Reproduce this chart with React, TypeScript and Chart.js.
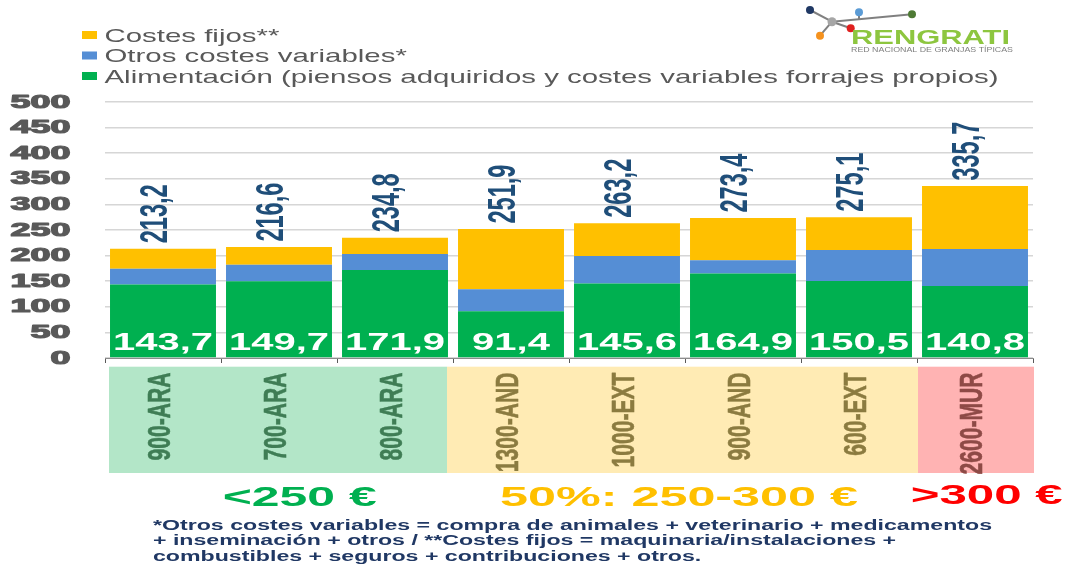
import React, { useEffect, useRef } from "react";
import { Chart, registerables } from "chart.js";

Chart.register(...registerables);

// ---------- data ----------
const categories = ["900-ARA", "700-ARA", "800-ARA", "1300-AND", "1000-EXT", "900-AND", "600-EXT", "2600-MUR"];
const categoryGroup = [0, 0, 0, 1, 1, 1, 1, 2];
const alimentacion = [143.7, 149.7, 171.9, 91.4, 145.6, 164.9, 150.5, 140.8];
const otrosVariables = [30.6, 32.6, 31.2, 43.0, 53.4, 26.0, 60.5, 72.3];
const costesFijos = [38.9, 34.3, 31.7, 117.5, 64.2, 82.5, 64.1, 122.6];
const totales = [213.2, 216.6, 234.8, 251.9, 263.2, 273.4, 275.1, 335.7];
const yTicks = [0, 50, 100, 150, 200, 250, 300, 350, 400, 450, 500];
const seriesNames = [
  "Costes fijos**",
  "Otros costes variables*",
  "Alimentación (piensos adquiridos y costes variables forrajes propios)",
];
const groupLabels = ["<250 €", "50%: 250-300 €", ">300 €"];
const footnoteLines = [
  "*Otros costes variables = compra de animales + veterinario + medicamentos",
  "+ inseminación + otros / **Costes fijos = maquinaria/instalaciones +",
  "combustibles + seguros + contribuciones + otros.",
];
const logoTitle = "RENGRATI";
const logoSubtitle = "RED NACIONAL DE GRANJAS TÍPICAS";

// ---------- styles ----------
const FF = '"Liberation Sans", Arial, sans-serif';
const C_YELLOW = "#FFC000";
const C_BLUE = "#558ED5";
const C_GREEN = "#00B050";

const fmt = (v: number) => v.toFixed(1).replace(".", ",");

function txt(
  ctx: CanvasRenderingContext2D,
  s: string,
  x: number,
  y: number,
  font: string,
  color: string,
  align: CanvasTextAlign,
  sx = 1,
  rot = 0,
  stroke = 0
) {
  ctx.save();
  ctx.translate(x, y);
  if (rot) ctx.rotate(rot);
  ctx.scale(sx, 1);
  ctx.font = font;
  ctx.fillStyle = color;
  ctx.textAlign = align;
  ctx.textBaseline = "alphabetic";
  ctx.fillText(s, 0, 0);
  if (stroke > 0) {
    ctx.strokeStyle = color;
    ctx.lineWidth = stroke;
    ctx.lineJoin = "round";
    ctx.strokeText(s, 0, 0);
  }
  ctx.restore();
}

function fit(ctx: CanvasRenderingContext2D, font: string, s: string, w: number) {
  ctx.save();
  ctx.font = font;
  const m = ctx.measureText(s).width;
  ctx.restore();
  return w / m;
}

const overlayPlugin = {
  id: "overlay",
  afterDraw(chart: any) {
    const ctx: CanvasRenderingContext2D = chart.ctx;
    const xs = chart.scales.x;
    const ys = chart.scales.y;

    // legend
    const legFont = `19px ${FF}`;
    const legSx = fit(ctx, legFont, seriesNames[2], 894);
    const legColors = [C_YELLOW, C_BLUE, C_GREEN];
    const legBase = [41.7, 62.2, 82.7];
    seriesNames.forEach((n, i) => {
      ctx.fillStyle = legColors[i];
      ctx.fillRect(82, legBase[i] - 10.7, 15, 8);
      txt(ctx, n, 104.5, legBase[i], legFont, "#595959", "left", legSx);
    });

    // y tick labels
    const yFont = `bold 19px ${FF}`;
    const ySx = fit(ctx, yFont, "500", 60);
    yTicks.forEach((v) => {
      txt(ctx, String(v), 70.5, ys.getPixelForValue(v) + 5.5, yFont, "#595959", "right", ySx, 0, 1.2);
    });

    // inner labels (green values)
    const inFont = `bold 23px ${FF}`;
    const inSx = fit(ctx, inFont, "143,7", 100);
    const meta0 = chart.getDatasetMeta(0);
    alimentacion.forEach((v, i) => {
      const bx = meta0.data[i].x;
      txt(ctx, fmt(v), bx, 349.5, inFont, "#FFFFFF", "center", inSx);
    });

    // totals (rotated)
    const totFont = `bold 38px ${FF}`;
    const totSx = fit(ctx, totFont, "213,2", 59);
    totales.forEach((v, i) => {
      const bx = meta0.data[i].x;
      const top = ys.getPixelForValue(v);
      txt(ctx, fmt(v), bx + 3.7, top - 5.5, totFont, "#1F4E79", "left", totSx, -Math.PI / 2);
    });

    // category group boxes
    const boxes = [
      { x0: 109, x1: 447, color: "#B3E6C8" },
      { x0: 447, x1: 918, color: "#FFEBB4" },
      { x0: 918, x1: 1034, color: "#FFB3B3" },
    ];
    boxes.forEach((b) => {
      ctx.fillStyle = b.color;
      ctx.fillRect(b.x0, 366.7, b.x1 - b.x0, 473 - 366.7);
    });

    // category labels
    const catFont = `bold 31px ${FF}`;
    const catSx = fit(ctx, catFont, "900-ARA", 88);
    const catColors = ["#3F7D55", "#8B7B40", "#8E4A46"];
    categories.forEach((c, i) => {
      const cx = xs.getPixelForValue(i);
      txt(ctx, c, cx + 6.5, 372.5, catFont, catColors[categoryGroup[i]], "right", catSx, -Math.PI / 2, 0.6);
    });

    // group labels
    const gFont = `bold 27px ${FF}`;
    const gSpec = [
      { x: 222.7, w: 154, base: 506, color: "#00B050" },
      { x: 500, w: 358, base: 506, color: "#FFC000" },
      { x: 910.7, w: 152, base: 504, color: "#FF0000" },
    ];
    groupLabels.forEach((g, i) => {
      const s = gSpec[i];
      const sx = fit(ctx, gFont, g, s.w);
      txt(ctx, g, s.x, s.base, gFont, s.color, "left", sx);
    });

    // footnote
    const fnFont = `bold 14.5px ${FF}`;
    const fnSx = fit(ctx, fnFont, footnoteLines[0], 839);
    const fnBase = [529.5, 545, 560.5];
    footnoteLines.forEach((l, i) => {
      txt(ctx, l, 153, fnBase[i], fnFont, "#203864", "left", fnSx);
    });

    // logo
    ctx.save();
    ctx.strokeStyle = "#808080";
    ctx.lineWidth = 2;
    const seg = (a: number[], b: number[]) => {
      ctx.beginPath();
      ctx.moveTo(a[0], a[1]);
      ctx.lineTo(b[0], b[1]);
      ctx.stroke();
    };
    const hub = [832, 21.7];
    seg([810, 10], hub);
    seg(hub, [820, 35.7]);
    seg(hub, [850.7, 28.3]);
    seg(hub, [912, 14.3]);
    seg([859, 12.3], [859, 19.2]);
    const dots: [number, number, number, string][] = [
      [810, 10, 4, "#203864"],
      [859, 12.3, 4, "#5B9BD5"],
      [912, 14.3, 4, "#4E7A34"],
      [832, 21.7, 4.5, "#A6A6A6"],
      [850.7, 28.3, 4, "#E0201F"],
      [820, 35.7, 4, "#F5921E"],
    ];
    dots.forEach(([dx, dy, r, c]) => {
      ctx.beginPath();
      ctx.arc(dx, dy, r, 0, Math.PI * 2);
      ctx.fillStyle = c;
      ctx.fill();
    });
    ctx.restore();
    const lgFont = `bold 20px ${FF}`;
    txt(ctx, logoTitle, 851, 43.5, lgFont, "#8DC63F", "left", fit(ctx, lgFont, logoTitle, 159));
    const lsFont = `7px ${FF}`;
    txt(ctx, logoSubtitle, 851, 51.5, lsFont, "#7F7F7F", "left", fit(ctx, lsFont, logoSubtitle, 162));
  },
};

export default function App() {
  const ref = useRef<HTMLCanvasElement | null>(null);
  useEffect(() => {
    if (!ref.current) return;
    const chart = new Chart(ref.current, {
      type: "bar",
      data: {
        labels: categories,
        datasets: [
          { label: seriesNames[2], data: alimentacion, backgroundColor: C_GREEN },
          { label: seriesNames[1], data: otrosVariables, backgroundColor: C_BLUE },
          { label: seriesNames[0], data: costesFijos, backgroundColor: C_YELLOW },
        ],
      },
      options: {
        animation: false,
        responsive: false,
        devicePixelRatio: 1,
        layout: { padding: { left: 105, right: 35, top: 102, bottom: 203 } },
        datasets: { bar: { barPercentage: 0.9135, categoryPercentage: 1 } },
        plugins: { legend: { display: false }, tooltip: { enabled: false } },
        scales: {
          x: {
            stacked: true,
            ticks: { display: false },
            grid: {
              offset: true,
              drawOnChartArea: false,
              drawTicks: true,
              tickLength: 5,
              color: "#595959",
            },
            border: { display: true, color: "#8C8C8C", width: 1 },
            afterFit: (s: any) => {
              s.height = 5;
            },
          },
          y: {
            stacked: true,
            min: 0,
            max: 500,
            ticks: { display: false, stepSize: 50 },
            grid: { color: "#D6D6D6", lineWidth: 1.5, drawTicks: false },
            border: { display: false },
            afterFit: (s: any) => {
              s.width = 0;
            },
          },
        },
      },
      plugins: [overlayPlugin],
    } as any);
    return () => chart.destroy();
  }, []);
  return (
    <div style={{ position: "fixed", left: 0, top: 0, width: 1068, height: 566, background: "#fff" }}>
      <canvas ref={ref} width={1068} height={566} style={{ display: "block" }} />
    </div>
  );
}
